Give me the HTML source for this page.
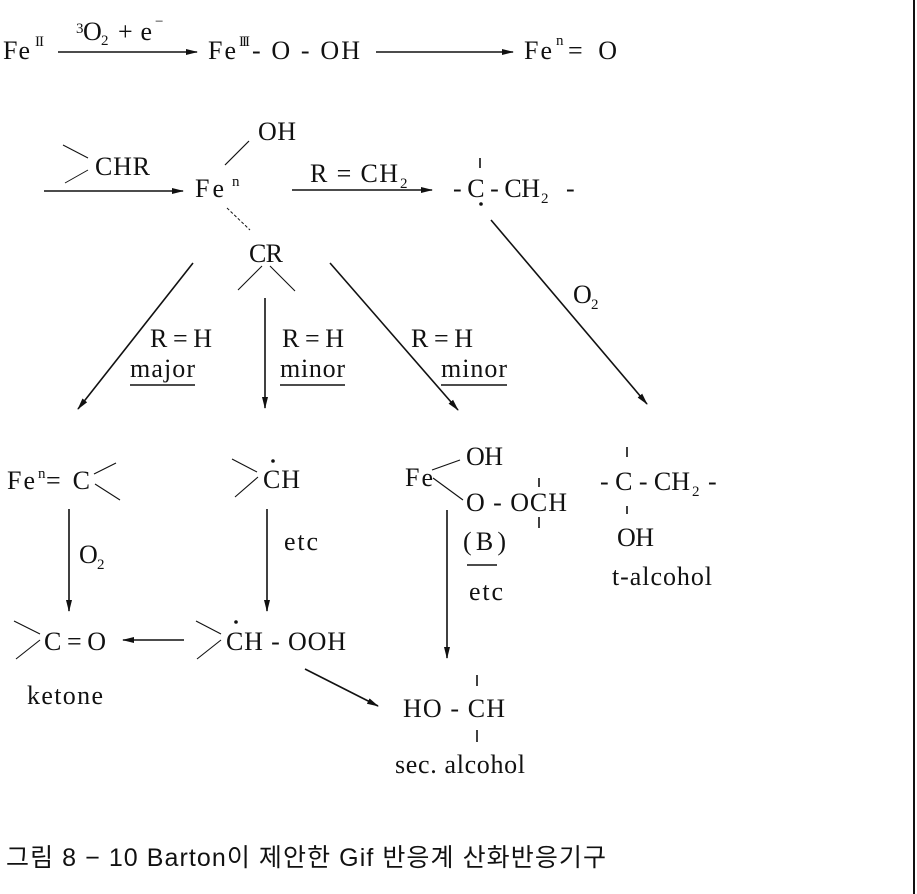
<!DOCTYPE html>
<html><head><meta charset="utf-8"><style>
html,body{margin:0;padding:0;background:#fff;}
svg{display:block}
text{font-family:"Liberation Serif",serif;font-size:26px;fill:#111}
.s{font-size:15px}
.cap{font-family:"Liberation Sans","Noto Sans CJK KR",sans-serif;font-size:25px}
</style></head><body>
<svg width="917" height="894" viewBox="0 0 917 894" xmlns="http://www.w3.org/2000/svg">
<defs><marker id="a" markerWidth="12" markerHeight="8" refX="11" refY="4" orient="auto" markerUnits="userSpaceOnUse"><path d="M0,1 L12,4 L0,7z" fill="#111"/></marker></defs>
<g stroke="#111" stroke-width="1.6" fill="none">
<line x1="914" y1="0" x2="914" y2="894" stroke-width="2"/>
<line x1="58" y1="52" x2="197" y2="52" marker-end="url(#a)"/>
<line x1="376" y1="52" x2="513" y2="52" marker-end="url(#a)"/>
<line x1="63" y1="145" x2="88" y2="158" stroke-width="1"/><line x1="88" y1="170" x2="65" y2="183" stroke-width="1"/>
<line x1="44" y1="191" x2="183" y2="191" marker-end="url(#a)"/>
<line x1="292" y1="190" x2="432" y2="190" marker-end="url(#a)"/>
<line x1="249" y1="141" x2="225" y2="165" stroke-width="1.2"/>
<line x1="227" y1="208" x2="250" y2="230" stroke-dasharray="3,2" stroke-width="1"/>
<line x1="480" y1="158" x2="480" y2="168"/>
<line x1="491" y1="220" x2="647" y2="404" marker-end="url(#a)"/>
<line x1="193" y1="263" x2="78" y2="409" marker-end="url(#a)"/>
<line x1="238" y1="290" x2="262" y2="266" stroke-width="1.1"/><line x1="270" y1="266" x2="295" y2="291" stroke-width="1.1"/>
<line x1="265" y1="298" x2="265" y2="408" marker-end="url(#a)"/>
<line x1="330" y1="263" x2="458" y2="410" marker-end="url(#a)"/>
<line x1="130" y1="385" x2="195" y2="385"/>
<line x1="280" y1="385" x2="345" y2="385"/>
<line x1="441" y1="385" x2="507" y2="385"/>
<line x1="94" y1="474" x2="116" y2="463" stroke-width="1.1"/>
<line x1="95" y1="484" x2="120" y2="500" stroke-width="1.1"/>
<line x1="232" y1="459" x2="257" y2="472" stroke-width="1.1"/><line x1="258" y1="477" x2="235" y2="497" stroke-width="1.1"/>
<line x1="432" y1="470" x2="460" y2="460" stroke-width="1.1"/><line x1="433" y1="478" x2="463" y2="500" stroke-width="1.1"/>
<line x1="539" y1="478" x2="539" y2="487"/><line x1="539" y1="517" x2="539" y2="528"/>
<line x1="627" y1="447" x2="627" y2="457"/><line x1="627" y1="506" x2="627" y2="514"/>
<line x1="69" y1="509" x2="69" y2="611" marker-end="url(#a)"/>
<line x1="267" y1="509" x2="267" y2="611" marker-end="url(#a)"/>
<line x1="447" y1="510" x2="447" y2="658" marker-end="url(#a)"/>
<line x1="467" y1="565" x2="497" y2="565"/>
<line x1="14" y1="621" x2="40" y2="634" stroke-width="1.1"/><line x1="40" y1="640" x2="16" y2="659" stroke-width="1.1"/>
<line x1="184" y1="640" x2="123" y2="640" marker-end="url(#a)"/>
<line x1="196" y1="621" x2="221" y2="634" stroke-width="1.1"/><line x1="221" y1="640" x2="197" y2="659" stroke-width="1.1"/>
<line x1="305" y1="669" x2="378" y2="706" marker-end="url(#a)"/>
<line x1="477" y1="675" x2="477" y2="686"/><line x1="477" y1="730" x2="477" y2="742"/>
</g>
<circle cx="481" cy="204" r="1.8" fill="#111"/>
<circle cx="273" cy="461" r="1.8" fill="#111"/>
<circle cx="236" cy="622" r="1.8" fill="#111"/>
<text x="3" y="59" textLength="27">Fe</text><text x="35" y="46" class="s" textLength="9">II</text>
<text x="76" y="33" class="s">3</text><text x="83" y="40">O</text><text x="101" y="45" class="s">2</text><text x="118" y="40" textLength="34">+ e</text><text x="155" y="26" class="s">−</text>
<text x="208" y="59" textLength="28">Fe</text><text x="239" y="46" class="s" textLength="11">III</text><text x="252" y="59" textLength="108">- O - OH</text>
<text x="524" y="59" textLength="28">Fe</text><text x="556" y="45" class="s">n</text><text x="568" y="59" textLength="49">= O</text>
<text x="258" y="140" textLength="38">OH</text>
<text x="95" y="175" textLength="55">CHR</text>
<text x="195" y="197" textLength="29">Fe</text><text x="232" y="186" class="s">n</text>
<text x="310" y="182" textLength="88">R = CH</text><text x="400" y="188" class="s">2</text>
<text x="453" y="197" textLength="87">- C - CH</text><text x="541" y="203" class="s">2</text><text x="566" y="197">-</text>
<text x="249" y="262" textLength="34">CR</text>
<text x="573" y="303">O</text><text x="591" y="309" class="s">2</text>
<text x="150" y="347" textLength="62">R = H</text><text x="130" y="377" textLength="65">major</text>
<text x="282" y="347" textLength="62">R = H</text><text x="280" y="377" textLength="65">minor</text>
<text x="411" y="347" textLength="62">R = H</text><text x="441" y="377" textLength="66">minor</text>
<text x="7" y="489" textLength="28">Fe</text><text x="38" y="478" class="s">n</text><text x="46" y="489" textLength="44">=C</text>
<text x="263" y="488" textLength="37">CH</text>
<text x="405" y="486" textLength="28">Fe</text>
<text x="466" y="465" textLength="37">OH</text>
<text x="466" y="511" textLength="101">O - OCH</text>
<text x="600" y="490" textLength="90">- C - CH</text><text x="692" y="496" class="s">2</text><text x="708" y="490">-</text>
<text x="617" y="546" textLength="37">OH</text>
<text x="612" y="585" textLength="100">t-alcohol</text>
<text x="79" y="563">O</text><text x="97" y="569" class="s">2</text>
<text x="284" y="550" textLength="34">etc</text>
<text x="463" y="550" textLength="43">(B)</text>
<text x="469" y="600" textLength="34">etc</text>
<text x="44" y="650" textLength="62">C=O</text>
<text x="226" y="650" textLength="120">CH - OOH</text>
<text x="27" y="704" textLength="76">ketone</text>
<text x="403" y="717" textLength="102">HO - CH</text>
<text x="395" y="773" textLength="130">sec. alcohol</text>
<text x="6" y="866" class="cap" textLength="600">그림 8 − 10 Barton이 제안한 Gif 반응계 산화반응기구</text>
</svg>
</body></html>
